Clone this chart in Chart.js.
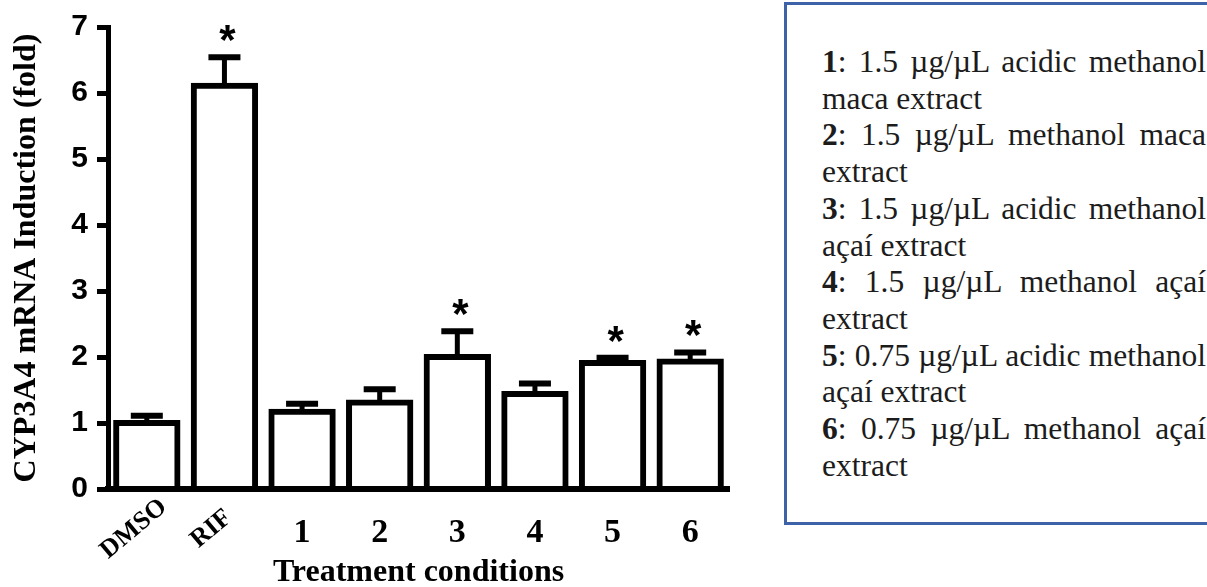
<!DOCTYPE html>
<html>
<head>
<meta charset="utf-8">
<title>CYP3A4 mRNA Induction</title>
<script src="https://cdn.jsdelivr.net/npm/chart.js@4.4.1/dist/chart.umd.min.js"></script>
<style>
  html, body { margin: 0; padding: 0; background: #fff; }
  body { width: 1207px; height: 587px; position: relative; overflow: hidden; }
  #wrap { position: absolute; left: 0; top: 0; width: 745px; height: 587px; }
  .key-box {
    position: absolute; left: 784px; top: 2px; width: 470px; height: 523px;
    box-sizing: border-box; border: 3px solid #3d62a8;
  }
  .key {
    position: absolute; left: 822px; top: 44px; width: 384px;
    font-family: "Liberation Serif", "Times New Roman", serif;
    font-size: 31.5px; line-height: 36.7px; color: #1c1c1c;
  }
  .key .first { text-align: justify; text-align-last: justify; white-space: nowrap; }
</style>
</head>
<body>
<div id="wrap"><canvas id="chart" width="745" height="587"></canvas></div>
<div class="key-box"></div>
<div class="key" id="key"></div>

<script>
// ---------- Données ----------
const categories = ["DMSO", "RIF", "1", "2", "3", "4", "5", "6"];
const meanFold = [1.0, 6.11, 1.17, 1.31, 2.0, 1.44, 1.91, 1.93];
const semFold = [0.11, 0.43, 0.12, 0.2, 0.39, 0.16, 0.08, 0.14];
const significant = [false, true, false, false, true, false, true, true];
const slantedLabels = ["DMSO", "RIF"];
const yMin = 0;
const yMax = 7;
const yStep = 1;

const keyNumbers = ["1", "2", "3", "4", "5", "6"];
const keyFirstLines = [
  ": 1.5 µg/µL acidic methanol",
  ": 1.5 µg/µL methanol maca",
  ": 1.5 µg/µL acidic methanol",
  ": 1.5 µg/µL methanol açaí",
  ": 0.75 µg/µL acidic methanol",
  ": 0.75 µg/µL methanol açaí",
];
const keySecondLines = [
  "maca extract",
  "extract",
  "açaí extract",
  "extract",
  "açaí extract",
  "extract",
];

// ---------- Légende (encadré) ----------
const key = document.getElementById("key");
keyNumbers.forEach((n, i) => {
  const first = document.createElement("div");
  first.className = "first";
  const b = document.createElement("b");
  b.textContent = n;
  first.appendChild(b);
  first.appendChild(document.createTextNode(keyFirstLines[i]));
  const second = document.createElement("div");
  second.textContent = keySecondLines[i];
  key.appendChild(first);
  key.appendChild(second);
});

// ---------- Plugins ----------
const serif = "'Liberation Serif', 'Times New Roman', serif";
const sans = "'Liberation Sans', Arial, sans-serif";

const errorBars = {
  id: "errorBars",
  afterDatasetsDraw(chart) {
    const { ctx } = chart;
    const y = chart.scales.y;
    const bars = chart.getDatasetMeta(0).data;
    ctx.save();
    ctx.strokeStyle = "#000";
    ctx.fillStyle = "#000";
    bars.forEach((bar, i) => {
      const top = y.getPixelForValue(meanFold[i] + semFold[i]);
      const base = y.getPixelForValue(meanFold[i]);
      ctx.lineWidth = 5;
      ctx.beginPath();
      ctx.moveTo(bar.x, base);
      ctx.lineTo(bar.x, top);
      ctx.stroke();
      ctx.lineWidth = 6;
      ctx.beginPath();
      ctx.moveTo(bar.x - 16, top);
      ctx.lineTo(bar.x + 16, top);
      ctx.stroke();
      if (significant[i]) {
        ctx.font = "bold 42px " + sans;
        ctx.textAlign = "center";
        ctx.textBaseline = "alphabetic";
        ctx.fillText("*", bar.x + 3, top - 3);
      }
    });
    ctx.restore();
  },
};

const slantedTicks = {
  id: "slantedTicks",
  afterDraw(chart) {
    const { ctx } = chart;
    const x = chart.scales.x;
    ctx.save();
    ctx.font = "bold 26px " + serif;
    ctx.fillStyle = "#000";
    ctx.textAlign = "center";
    ctx.textBaseline = "middle";
    categories.forEach((c, i) => {
      if (!slantedLabels.includes(c)) return;
      ctx.save();
      ctx.translate(x.getPixelForValue(i) - 13, 529);
      ctx.rotate(-40 * Math.PI / 180);
      ctx.fillText(c, 0, 0);
      ctx.restore();
    });
    ctx.restore();
  },
};

// ---------- Graphique ----------
new Chart(document.getElementById("chart"), {
  type: "bar",
  data: {
    labels: categories,
    datasets: [{
      data: meanFold,
      backgroundColor: "#fff",
      borderColor: "#000",
      borderWidth: 6,
      borderSkipped: "start",
      inflateAmount: 3,
      barPercentage: 0.79,
      categoryPercentage: 1,
    }],
  },
  options: {
    responsive: false,
    animation: false,
    devicePixelRatio: 1,
    layout: { padding: { left: 0, right: 16, top: 25, bottom: 0 } },
    plugins: { legend: { display: false }, tooltip: { enabled: false } },
    scales: {
      x: {
        grid: { display: false, drawTicks: false },
        border: { display: true, color: "#000", width: 6, z: 1 },
        ticks: {
          color: "#000",
          font: { family: serif, weight: "bold", size: 34 },
          padding: 24,
          maxRotation: 0,
          minRotation: 0,
          autoSkip: false,
          callback: (v, i) => (slantedLabels.includes(categories[i]) ? "" : categories[i]),
        },
        title: {
          display: true,
          text: "Treatment conditions",
          color: "#000",
          font: { family: serif, weight: "bold", size: 32, lineHeight: 0.9 },
          padding: { top: 0, bottom: 0 },
        },
        afterFit: (s) => { s.height = 98; },
      },
      y: {
        min: yMin,
        max: yMax,
        grid: { drawOnChartArea: false, drawTicks: true, tickLength: 11, lineWidth: 5, color: "#000" },
        border: { display: true, color: "#000", width: 5 },
        ticks: {
          stepSize: yStep,
          color: "#000",
          font: { family: sans, weight: "bold", size: 30 },
          padding: 9,
        },
        title: {
          display: true,
          text: "CYP3A4 mRNA Induction (fold)",
          color: "#000",
          font: { family: serif, weight: "bold", size: 32 },
          padding: { top: 8, bottom: 0 },
        },
        afterFit: (s) => { s.width = 108; },
      },
    },
  },
  plugins: [errorBars, slantedTicks],
});
</script>
</body>
</html>
